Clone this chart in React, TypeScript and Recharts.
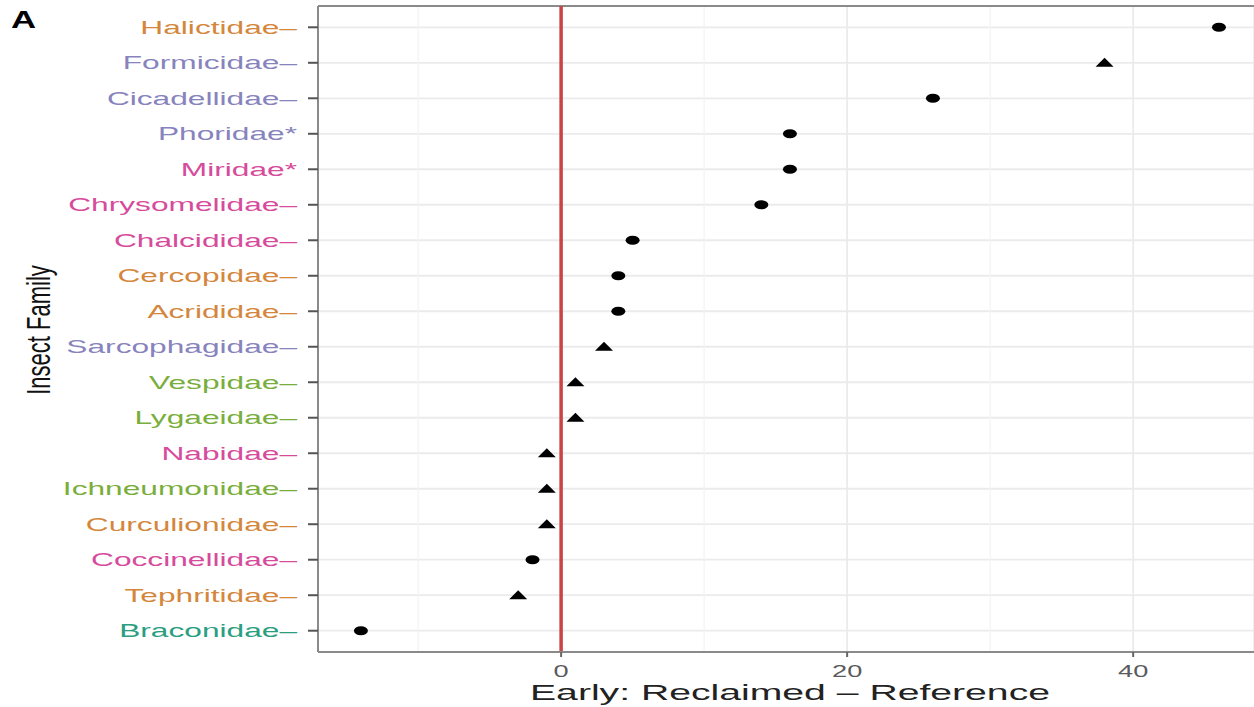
import { ScatterChart, Scatter, XAxis, YAxis, CartesianGrid, ReferenceLine } from 'recharts';

const families = [
  'Halictidae–', 'Formicidae–', 'Cicadellidae–', 'Phoridae*', 'Miridae*', 'Chrysomelidae–',
  'Chalcididae–', 'Cercopidae–', 'Acrididae–', 'Sarcophagidae–', 'Vespidae–', 'Lygaeidae–',
  'Nabidae–', 'Ichneumonidae–', 'Curculionidae–', 'Coccinellidae–', 'Tephritidae–', 'Braconidae–',
];
const differences = [46, 38, 26, 16, 16, 14, 5, 4, 4, 3, 1, 1, -1, -1, -1, -2, -3, -14];
const markerShapes = [
  'circle', 'triangle', 'circle', 'circle', 'circle', 'circle', 'circle', 'circle', 'circle',
  'triangle', 'triangle', 'triangle', 'triangle', 'triangle', 'triangle', 'circle', 'triangle', 'circle',
];
const labelGroups = [
  'orange', 'purple', 'purple', 'purple', 'pink', 'pink', 'pink', 'orange', 'orange',
  'purple', 'green', 'green', 'pink', 'green', 'orange', 'pink', 'orange', 'teal',
];
const xTicks = [0, 20, 40];
const xMinorTicks = [-10, 10, 30];

const groupColors: Record<string, string> = {
  orange: '#d4873c',
  purple: '#8783bd',
  pink: '#d64b9b',
  green: '#79ae3c',
  teal: '#2a9e7f',
};

const rows = families.map((family, i) => ({
  family,
  rank: i + 1,
  diff: differences[i],
  shape: markerShapes[i],
}));
const ranks = rows.map((r) => r.rank);

function FamilyTick(props: any) {
  const { x, y, payload } = props;
  const i = payload.value - 1;
  return (
    <g transform={`translate(${x},${y}) scale(1.76,1)`}>
      <text textAnchor="end" dy="0.36em" fontSize={18} fill={groupColors[labelGroups[i]]}
        fontFamily="Liberation Sans, Arial, sans-serif">
        {families[i]}
      </text>
    </g>
  );
}

function ValueTick(props: any) {
  const { x, y, payload } = props;
  return (
    <g transform={`translate(${x},${y}) scale(1.7,1)`}>
      <text textAnchor="middle" dy="1.15em" fontSize={16} fill="#5a5a5a"
        fontFamily="Liberation Sans, Arial, sans-serif">
        {payload.value}
      </text>
    </g>
  );
}

function Marker(props: any) {
  const { cx, cy, payload } = props;
  if (payload.shape === 'triangle') {
    return <polygon points={`${cx - 9},${cy + 4} ${cx + 9},${cy + 4} ${cx},${cy - 5}`} fill="#000" />;
  }
  return <ellipse cx={cx} cy={cy} rx={7} ry={4.5} fill="#000" />;
}

export default function App() {
  return (
    <div style={{ position: 'absolute', left: 0, top: 0, width: 1254, height: 707, background: '#fff' }}>
      <ScatterChart width={1254} height={707} margin={{ top: 6, right: 0, bottom: 0, left: 0 }}>
        {xMinorTicks.map((v) => (
          <ReferenceLine key={v} x={v} stroke="#f3f3f3" strokeWidth={1.2} />
        ))}
        <CartesianGrid stroke="#ebebeb" strokeWidth={1.8} />
        <XAxis
          type="number"
          dataKey="diff"
          domain={[-17, 48.45]}
          ticks={xTicks}
          allowDataOverflow
          tickSize={5}
          tickLine={{ stroke: '#666', strokeWidth: 2 }}
          axisLine={{ stroke: '#8a8a8a', strokeWidth: 2 }}
          tick={<ValueTick />}
          height={55}
        />
        <YAxis
          type="number"
          dataKey="rank"
          reversed
          domain={[0.4, 18.6]}
          ticks={ranks}
          interval={0}
          allowDataOverflow
          width={318}
          tickSize={10}
          tickMargin={11}
          tickLine={{ stroke: '#555', strokeWidth: 2 }}
          axisLine={{ stroke: '#8a8a8a', strokeWidth: 2 }}
          tick={<FamilyTick />}
        />
        <ReferenceLine y={0.4} stroke="#8a8a8a" strokeWidth={2} />
        <ReferenceLine x={0} stroke="#c94545" strokeWidth={3.5} />
        <Scatter data={rows} shape={<Marker />} isAnimationActive={false} />
      </ScatterChart>
      <svg width={1254} height={707} style={{ position: 'absolute', left: 0, top: 0, pointerEvents: 'none' }}>
        <g transform="translate(11,28) scale(1.45,1)">
          <text x={0} y={0} fontSize={24} fontWeight="bold" fill="#000"
            fontFamily="Liberation Sans, Arial, sans-serif">
            A
          </text>
        </g>
        <g transform="translate(38,330) scale(1.55,1) rotate(-90)">
          <text textAnchor="middle" dy="0.35em" fontSize={22} fill="#111"
            fontFamily="Liberation Sans, Arial, sans-serif">
            Insect Family
          </text>
        </g>
        <text x={790} y={700} textAnchor="middle" fontSize={22} fill="#222"
          textLength={520} lengthAdjust="spacingAndGlyphs"
          fontFamily="Liberation Sans, Arial, sans-serif">
          Early: Reclaimed – Reference
        </text>
      </svg>
    </div>
  );
}
